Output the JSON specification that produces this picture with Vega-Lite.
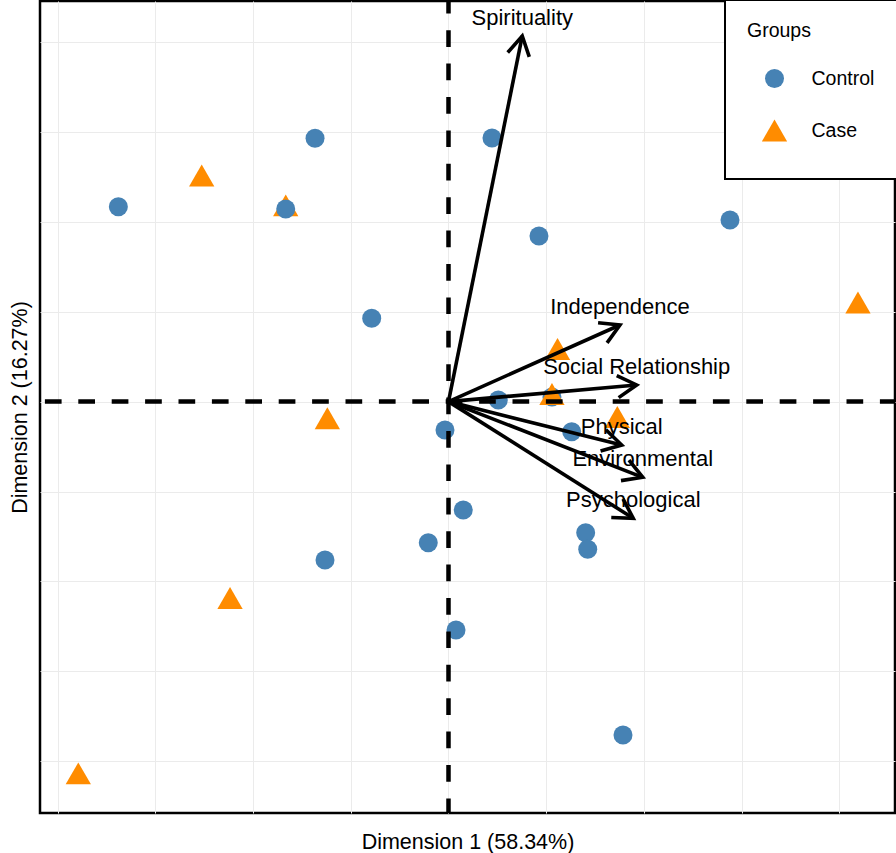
{
  "$schema": "https://vega.github.io/schema/vega-lite/v6.json",
  "width": 855,
  "height": 812,
  "autosize": {"type": "none"},
  "padding": {"left": 40, "top": 1, "right": 1, "bottom": 40},
  "background": "white",
  "config": {
    "font": "Liberation Sans",
    "view": {"stroke": "black", "strokeWidth": 2.5},
    "axis": {
      "domain": false,
      "ticks": false,
      "labels": false,
      "grid": true,
      "gridColor": "#EBEBEB",
      "gridWidth": 1,
      "titleFont": "Liberation Sans",
      "titleFontSize": 21.5,
      "titleFontWeight": "normal",
      "titleColor": "black"
    },
    "legend": {
      "orient": "none",
      "legendX": 685,
      "legendY": -1,
      "padding": 22,
      "strokeColor": "black",
      "strokeWidth": 2,
      "fillColor": "white",
      "titleFontSize": 19.5,
      "titleFontWeight": "normal",
      "titleColor": "black",
      "titlePadding": 11,
      "labelFontSize": 19.5,
      "labelColor": "black",
      "symbolOffset": 14.5,
      "labelOffset": 24,
      "clipHeight": 52,
      "rowPadding": 0,
      "symbolStrokeWidth": 0
    }
  },
  "datasets": {
    "scores": [
      {"dim1": 1.059, "dim2": 0.051, "group": "Control"},
      {"dim1": -2.526, "dim2": 2.515, "group": "Case"},
      {"dim1": -1.666, "dim2": 2.183, "group": "Case"},
      {"dim1": 4.191, "dim2": 1.102, "group": "Case"},
      {"dim1": 1.116, "dim2": 0.585, "group": "Case"},
      {"dim1": 1.059, "dim2": 0.085, "group": "Case"},
      {"dim1": 1.728, "dim2": -0.171, "group": "Case"},
      {"dim1": -1.240, "dim2": -0.186, "group": "Case"},
      {"dim1": -2.236, "dim2": -2.185, "group": "Case"},
      {"dim1": -3.789, "dim2": -4.135, "group": "Case"},
      {"dim1": -3.379, "dim2": 2.168, "group": "Control"},
      {"dim1": -1.366, "dim2": 2.929, "group": "Control"},
      {"dim1": -1.666, "dim2": 2.142, "group": "Control"},
      {"dim1": 0.445, "dim2": 2.932, "group": "Control"},
      {"dim1": 0.926, "dim2": 1.842, "group": "Control"},
      {"dim1": 2.881, "dim2": 2.020, "group": "Control"},
      {"dim1": -0.786, "dim2": 0.927, "group": "Control"},
      {"dim1": 0.510, "dim2": 0.018, "group": "Control"},
      {"dim1": -0.036, "dim2": -0.316, "group": "Control"},
      {"dim1": 1.261, "dim2": -0.335, "group": "Control"},
      {"dim1": 0.151, "dim2": -1.206, "group": "Control"},
      {"dim1": -0.207, "dim2": -1.570, "group": "Control"},
      {"dim1": 1.404, "dim2": -1.458, "group": "Control"},
      {"dim1": 1.425, "dim2": -1.643, "group": "Control"},
      {"dim1": -1.264, "dim2": -1.762, "group": "Control"},
      {"dim1": 0.077, "dim2": -2.541, "group": "Control"},
      {"dim1": 1.786, "dim2": -3.709, "group": "Control"}
    ],
    "loadings": [
      {"variable": "Spirituality", "x0": 0, "y0": 0, "dim1": 0.755, "dim2": 4.067},
      {"variable": "Independence", "x0": 0, "y0": 0, "dim1": 1.755, "dim2": 0.852},
      {"variable": "Social Relationship", "x0": 0, "y0": 0, "dim1": 1.926, "dim2": 0.185},
      {"variable": "Physical", "x0": 0, "y0": 0, "dim1": 1.773, "dim2": -0.483},
      {"variable": "Environmental", "x0": 0, "y0": 0, "dim1": 1.988, "dim2": -0.842},
      {"variable": "Psychological", "x0": 0, "y0": 0, "dim1": 1.891, "dim2": -1.298}
    ],
    "zero": [{"origin": 0}]
  },
  "layer": [
    {
      "data": {"name": "scores"},
      "mark": {"type": "point", "filled": true, "opacity": 1, "strokeWidth": 0},
      "encoding": {
        "x": {
          "field": "dim1",
          "type": "quantitative",
          "scale": {"domain": [-4.181, 4.570], "nice": false, "zero": false},
          "axis": {"values": [-4, -3, -2, -1, 0, 1, 2, 3, 4], "title": "Dimension 1 (58.34%)", "titlePadding": 18}
        },
        "y": {
          "field": "dim2",
          "type": "quantitative",
          "scale": {"domain": [-4.576, 4.456], "nice": false, "zero": false},
          "axis": {"values": [-4, -3, -2, -1, 0, 1, 2, 3, 4], "title": "Dimension 2 (16.27%)", "titlePadding": 9}
        },
        "color": {
          "field": "group",
          "type": "nominal",
          "title": "Groups",
          "scale": {"domain": ["Control", "Case"], "range": ["#4682B4", "#FF8C00"]}
        },
        "shape": {
          "field": "group",
          "type": "nominal",
          "title": "Groups",
          "scale": {"domain": ["Control", "Case"], "range": ["circle", "triangle-up"]}
        },
        "size": {
          "field": "group",
          "type": "nominal",
          "title": "Groups",
          "scale": {"domain": ["Control", "Case"], "range": [361, 640]}
        }
      }
    },
    {
      "data": {"name": "zero"},
      "mark": {"type": "rule", "color": "black", "strokeWidth": 4.5, "strokeDash": [16.7, 16.7], "strokeDashOffset": 1.6, "strokeCap": "butt"},
      "encoding": {
        "y": {"field": "origin", "type": "quantitative"}
      }
    },
    {
      "data": {"name": "zero"},
      "mark": {"type": "rule", "color": "black", "strokeWidth": 4.5, "strokeDash": [16.7, 16.7], "strokeDashOffset": 4.2, "strokeCap": "butt"},
      "encoding": {
        "x": {"field": "origin", "type": "quantitative"}
      }
    },
    {
      "data": {"name": "loadings"},
      "mark": {"type": "rule", "color": "black", "strokeWidth": 3.6, "strokeCap": "butt"},
      "encoding": {
        "x": {"field": "x0", "type": "quantitative"},
        "y": {"field": "y0", "type": "quantitative"},
        "x2": {"field": "dim1"},
        "y2": {"field": "dim2"}
      }
    },
    {
      "data": {"name": "loadings"},
      "transform": [{"calculate": "atan2(datum.dim1 * 97.71, datum.dim2 * 89.9) * 180 / PI", "as": "ang"}],
      "mark": {"type": "point", "shape": "M-0.5,0.866L0,0L0.5,0.866", "filled": false, "color": "black", "stroke": "black", "strokeWidth": 3.6, "size": 1936, "opacity": 1, "strokeJoin": "miter", "strokeCap": "butt"},
      "encoding": {
        "x": {"field": "dim1", "type": "quantitative"},
        "y": {"field": "dim2", "type": "quantitative"},
        "angle": {"field": "ang", "type": "quantitative", "scale": null}
      }
    },
    {
      "data": {"name": "loadings"},
      "mark": {"type": "text", "fontSize": 22, "align": "center", "baseline": "alphabetic", "dy": -11, "color": "black", "font": "Liberation Sans"},
      "encoding": {
        "x": {"field": "dim1", "type": "quantitative"},
        "y": {"field": "dim2", "type": "quantitative"},
        "text": {"field": "variable", "type": "nominal"}
      }
    }
  ]
}
